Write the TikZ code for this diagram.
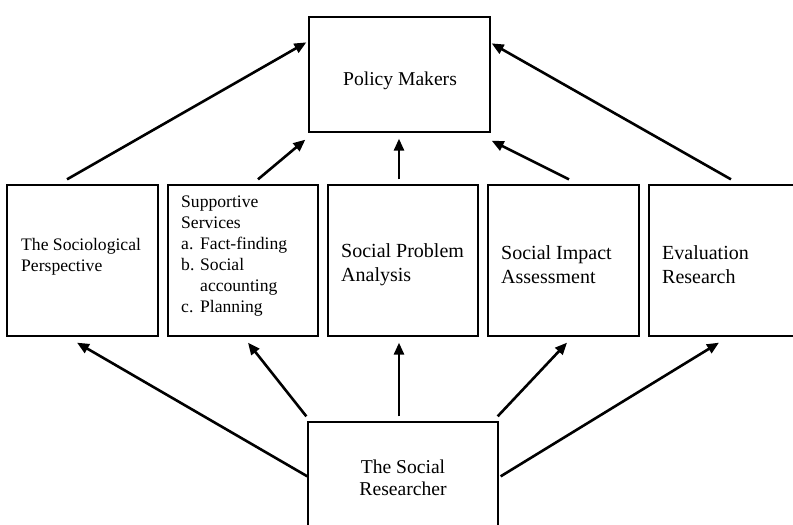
\documentclass[tikz,border=0pt]{standalone}
\usepackage{fontspec}
\setmainfont{Liberation Serif}
\usetikzlibrary{arrows.meta}
\begin{document}
\begin{tikzpicture}[x=1pt,y=-1pt,
  box/.style={draw,line width=1.3pt,minimum width=151pt,minimum height=151pt,inner sep=0pt},
  topbox/.style={draw,line width=1.3pt,minimum width=181pt,minimum height=115pt,inner sep=0pt},
  basebox/.style={draw,line width=1.3pt,minimum width=190pt,minimum height=140pt,inner sep=0pt},
  arr/.style={line width=2.6pt,-{Triangle[length=12pt,width=10pt]}},
  smalltxt/.style={inner sep=0pt,align=left,anchor=west,font={\fontsize{17.6}{21}\selectfont}},
  bigtxt/.style={inner sep=0pt,align=left,anchor=west,font={\fontsize{20}{24}\selectfont}},
  ctrtxt/.style={inner sep=0pt,align=center,font={\fontsize{19.6}{22.5}\selectfont}}]
\clip (0,0) rectangle (793,525);
\fill[white] (0,0) rectangle (793,525);

% boxes
\node[topbox] (pm) at (399.5,74.5) {};
\node[box] (b1) at (82.5,260.5) {};
\node[box,minimum width=150pt] (b2) at (243,260.5) {};
\node[box,minimum width=150pt] (b3) at (403,260.5) {};
\node[box] (b4) at (563.5,260.5) {};
\node[box] (b5) at (724.5,260.5) {};
\node[basebox] (sr) at (403,492) {};

% labels
\node[ctrtxt] (pmt) at (400,81) {Policy Makers};
\node[smalltxt] (t1) at (21,257) {The Sociological\\Perspective};
\node[smalltxt] (t2) at (181,256) {Supportive\\Services\\
  \makebox[19pt][l]{a.}Fact-finding\\
  \makebox[19pt][l]{b.}Social\\
  \hspace*{19pt}accounting\\
  \makebox[19pt][l]{c.}Planning};
\node[bigtxt] (t3) at (341,265) {Social Problem\\Analysis};
\node[bigtxt] (t4) at (501,265) {Social Impact\\Assessment};
\node[bigtxt] (t5) at (662,265) {Evaluation\\Research};
\node[ctrtxt] (srt) at (403,478) {The Social\\Researcher};

% arrows up to the policy makers
\draw[arr] ([shift={(-15.5,-5)}]b1.north) -- ([shift={(-2,26)}]pm.north west);
\draw[arr] ([shift={(15,-5)}]b2.north) -- ([shift={(-3,7)}]pm.south west);
\draw[arr] ([shift={(-4,-5)}]b3.north) -- ([shift={(-0.5,6)}]pm.south);
\draw[arr] ([shift={(5.5,-5)}]b4.north) -- ([shift={(1,8)}]pm.south east);
\draw[arr] ([shift={(6.5,-5)}]b5.north) -- ([shift={(1,27)}]pm.north east);

% arrows up from the researcher
\draw[arr] ([shift={(0,55)}]sr.north west) -- ([shift={(-5.5,6)}]b1.south);
\draw[arr] ([shift={(-1,-5)}]sr.north west) -- ([shift={(5,6)}]b2.south);
\draw[arr] ([shift={(-4,-5)}]sr.north) -- ([shift={(-4,6)}]b3.south);
\draw[arr] ([shift={(-1,-5)}]sr.north east) -- ([shift={(3.5,6)}]b4.south);
\draw[arr] ([shift={(2,55)}]sr.north east) -- ([shift={(-5.5,6)}]b5.south);
\end{tikzpicture}
\end{document}
